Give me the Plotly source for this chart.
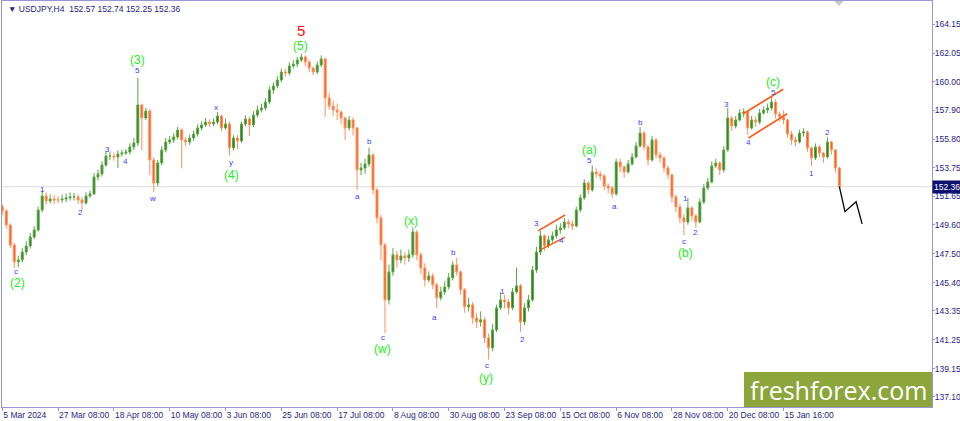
import plotly.graph_objects as go

# ---------------- data ----------------
first_open = 150.90
closes = [
150.60,149.58,148.13,146.90,147.04,147.62,148.06,148.71,149.22,150.67,
151.69,151.33,151.47,151.40,151.40,151.47,151.55,151.62,151.62,151.40,
151.18,151.69,151.84,153.07,153.29,153.94,154.59,154.59,154.52,154.74,
154.81,154.88,155.25,155.54,158.30,157.35,157.86,154.30,152.63,154.09,
155.03,155.61,155.76,155.97,156.48,155.76,155.61,155.90,156.19,156.63,
156.85,157.06,156.92,157.06,157.50,156.63,156.92,155.18,155.90,155.68,
156.92,157.28,156.85,157.57,157.93,158.08,158.51,159.39,159.68,160.11,
160.69,160.62,161.13,161.27,161.56,161.78,161.42,160.98,160.69,161.20,
161.64,158.81,158.22,157.93,157.79,157.35,156.63,157.21,156.63,153.58,
153.72,154.01,154.67,152.13,150.09,148.13,144.14,146.17,147.41,147.04,
147.33,147.19,147.41,149.08,147.41,146.46,145.59,145.88,145.23,144.29,
144.72,145.08,145.74,146.68,146.17,144.87,143.63,143.78,142.83,142.54,
142.69,141.38,140.66,141.96,143.56,144.14,143.99,143.56,144.72,145.16,
142.54,143.56,144.14,146.32,147.62,148.79,148.06,148.50,148.79,149.22,
149.37,149.80,149.66,149.51,150.67,151.55,152.63,152.13,153.43,153.29,
153.14,152.42,152.27,151.84,154.16,153.80,153.43,154.01,154.52,155.32,
156.26,155.25,154.30,155.76,154.67,154.45,153.72,153.22,151.62,150.89,
150.09,149.80,150.82,150.24,149.80,151.25,152.27,152.71,153.87,154.09,
153.58,155.03,157.35,156.77,157.21,157.72,157.79,156.63,157.21,157.06,
157.72,157.93,158.08,158.51,157.64,157.43,157.21,156.19,155.76,155.61,
156.26,156.34,155.18,154.45,155.25,154.81,154.52,155.61,155.03,153.72,
152.36]
highs = [
151.10,150.75,149.70,148.30,147.35,147.90,148.40,149.00,149.50,150.90,
152.10,151.95,151.80,151.75,151.70,151.80,151.85,151.95,151.90,151.80,
151.60,151.95,152.10,153.35,153.60,154.20,154.95,154.90,154.85,155.00,
155.05,155.10,155.50,155.90,160.25,158.40,158.10,158.00,154.50,154.30,
155.30,155.90,156.05,156.25,156.70,156.60,155.95,156.15,156.45,156.90,
157.10,157.35,157.25,157.30,157.80,157.60,157.30,157.10,156.10,156.10,
157.10,157.55,157.45,157.85,158.25,158.40,158.80,159.65,159.95,160.40,
160.95,160.95,161.40,161.55,161.80,162.05,161.90,161.55,161.05,161.45,
161.90,161.75,159.20,158.60,158.40,157.90,157.45,157.50,157.40,156.70,
154.10,154.40,155.20,154.80,152.30,150.30,148.30,146.70,147.90,147.70,
147.80,147.60,147.80,149.40,149.20,147.60,146.80,146.20,146.10,145.40,
145.10,145.50,146.10,146.95,147.20,146.30,145.00,144.30,144.00,143.20,
143.30,142.90,141.70,142.40,143.80,144.70,144.50,144.20,145.00,146.50,
145.30,143.90,144.50,146.60,148.00,149.15,148.90,148.80,149.10,149.60,
149.70,150.10,150.00,149.90,150.90,151.80,152.90,152.75,153.90,153.70,
153.50,153.30,152.60,152.40,154.40,154.40,153.90,154.30,154.80,155.60,
156.70,156.40,155.40,156.05,155.90,154.90,154.60,153.90,153.30,151.80,
151.10,150.40,151.55,150.95,150.40,151.50,152.55,153.00,154.20,154.40,
154.20,155.30,158.07,157.50,157.50,158.00,158.05,157.90,157.50,157.45,
158.00,158.20,158.40,158.95,158.70,157.80,157.90,157.30,156.40,156.00,
156.50,156.60,156.45,155.30,155.50,155.40,154.90,155.95,155.70,155.10,
153.80]
lows = [
150.30,149.30,147.90,146.46,146.50,146.85,147.40,147.85,148.55,149.10,
150.50,151.05,151.15,151.10,151.15,151.20,151.25,151.35,151.35,151.10,
150.65,151.05,151.55,151.75,152.80,153.10,153.80,154.30,154.25,153.72,
154.55,154.65,154.70,155.00,155.30,155.00,157.20,153.20,151.98,152.40,
153.90,154.85,155.45,155.55,155.80,153.70,155.30,155.40,155.70,156.00,
156.45,156.70,156.70,156.75,156.90,156.40,156.50,154.65,155.00,155.10,
155.55,156.75,156.05,156.70,157.40,157.75,157.90,158.35,159.10,159.50,
159.95,160.35,160.45,160.95,161.05,161.40,161.10,160.70,160.45,160.55,
161.05,157.43,157.95,157.50,157.20,156.90,155.75,156.45,156.10,152.13,
153.20,153.30,153.80,151.80,149.70,147.00,141.74,143.80,145.90,146.50,
146.80,146.70,146.90,147.20,147.00,146.00,145.10,145.40,144.90,143.55,
144.10,144.50,144.90,145.55,145.90,144.50,143.20,143.30,142.40,142.10,
142.20,141.00,139.80,140.40,141.80,143.40,143.50,143.10,143.40,144.60,
141.82,142.30,143.30,144.00,146.10,147.40,147.70,147.90,148.30,148.60,
148.95,149.20,149.35,149.20,149.40,150.50,151.40,151.80,152.00,153.00,
152.80,152.10,151.90,151.55,151.70,153.40,153.00,153.30,153.90,154.40,
155.20,155.00,153.90,154.20,154.40,154.10,153.40,152.90,151.20,150.50,
149.70,148.85,149.60,149.90,149.36,149.70,151.10,152.10,152.60,153.70,
153.20,153.40,154.90,156.40,156.60,157.10,157.40,156.12,156.50,156.70,
156.90,157.60,157.70,157.90,157.30,157.10,156.90,155.90,155.40,155.30,
155.50,156.00,154.90,153.86,154.30,154.50,154.10,154.40,154.70,153.40,
152.25]
opens = [first_open] + closes[:-1]
bars = list(range(len(closes)))

date_ticks = [0, 14, 28, 42, 56, 70, 84, 98, 112, 126, 140, 154, 168, 182, 196]
date_labels = ["5 Mar 2024", "27 Mar 08:00", "18 Apr 08:00", "10 May 08:00", "3 Jun 08:00",
               "25 Jun 08:00", "17 Jul 08:00", "8 Aug 08:00", "30 Aug 08:00", "23 Sep 08:00",
               "15 Oct 08:00", "6 Nov 08:00", "28 Nov 08:00", "20 Dec 08:00", "15 Jan 16:00"]
price_ticks = [164.15, 162.05, 160.00, 157.90, 155.80, 153.75, 151.65,
               149.60, 147.50, 145.40, 143.35, 141.25, 139.15, 137.10]
last_price = 152.36

# projected path (black zigzag)
forecast_x = [210, 211.4, 214.2, 215.7]
forecast_y = [152.36, 150.55, 151.27, 149.66]

# channel lines: (x0, y0, x1, y1)
channels = [
    (134.4, 149.15, 141.2, 150.31),
    (135.2, 147.81, 141.2, 148.70),
    (185.8, 157.64, 195.9, 159.44),
    (187.2, 155.90, 196.9, 157.66),
]

# wave labels
green_text = ["(2)", "(3)", "(4)", "(5)", "(w)", "(x)", "(y)", "(a)", "(b)", "(c)"]
green_x = [3.7, 34.0, 57.6, 74.7, 95.5, 102.5, 121.3, 147.4, 171.5, 193.4]
green_y = [145.37, 161.56, 153.21, 162.58, 140.58, 149.88, 138.48, 155.03, 147.55, 159.97]

blue_text = ["c", "1", "2", "3", "4", "5", "w", "x", "y",
             "a", "b", "c", "a", "b", "c", "1", "2", "3", "4",
             "5", "a", "b", "c", "1", "2", "3", "4", "5", "1", "2"]
blue_x = [3.4, 10.0, 19.7, 26.3, 31.0, 34.0, 37.8, 53.6, 57.4,
          89.2, 92.0, 95.5, 108.3, 113.3, 121.6, 125.6, 130.4, 134.1, 140.4,
          147.4, 153.5, 160.0, 171.0, 171.3, 174.0, 181.6, 187.1, 193.4, 202.9, 206.9]
blue_y = [146.17, 152.13, 150.46, 155.10, 154.16, 160.77, 151.54, 158.15, 154.09,
          151.62, 155.61, 141.38, 142.83, 147.55, 139.35, 144.72, 141.24, 149.66, 148.42,
          154.30, 150.96, 157.06, 148.35, 151.54, 149.00, 158.30, 155.54, 159.24, 153.29, 156.27]

red_text = ["5"]
red_x = [74.9]
red_y = [163.74]

# ---------------- figure ----------------
FONT = "Liberation Sans, Arial, sans-serif"
AXIS_COL = "#9595d8"
TXT_COL = "#25257f"

fig = go.Figure()

fig.add_shape(type="line", xref="paper", yref="y", x0=0, x1=1, y0=last_price, y1=last_price,
              line=dict(color="#dcdcdc", width=1), layer="below")

fig.add_trace(go.Candlestick(
    x=bars, open=opens, high=highs, low=lows, close=closes,
    increasing=dict(line=dict(color="#5aa545", width=1), fillcolor="#2f7f1f"),
    decreasing=dict(line=dict(color="#ff8f5c", width=1), fillcolor="#ff5a10"),
    whiskerwidth=0, hoverinfo="skip", showlegend=False,
))

fig.add_trace(go.Scatter(x=forecast_x, y=forecast_y, mode="lines",
                         line=dict(color="#000000", width=1.3), hoverinfo="skip", showlegend=False))

for (x0, y0, x1, y1) in channels:
    fig.add_shape(type="line", xref="x", yref="y", x0=x0, y0=y0, x1=x1, y1=y1,
                  line=dict(color="#ff5a1a", width=1.6))

annotations = []
for t, x, y in zip(green_text, green_x, green_y):
    annotations.append(dict(x=x, y=y, xref="x", yref="y", text=t, showarrow=False,
                            font=dict(family=FONT, size=12, color="#22ee22")))
for t, x, y in zip(blue_text, blue_x, blue_y):
    annotations.append(dict(x=x, y=y, xref="x", yref="y", text=t, showarrow=False,
                            font=dict(family=FONT, size=8, color="#3b3bff")))
for t, x, y in zip(red_text, red_x, red_y):
    annotations.append(dict(x=x, y=y, xref="x", yref="y", text=t, showarrow=False,
                            font=dict(family=FONT, size=15, color="#ff1010")))

# header text
annotations.append(dict(x=0.004, y=1, xref="paper", yref="paper", xanchor="left", yanchor="top",
                        yshift=-1, text="▼ USDJPY,H4  152.57 152.74 152.25 152.36", showarrow=False,
                        font=dict(family=FONT, size=8.5, color=TXT_COL)))
# last price tag
annotations.append(dict(x=1, y=last_price, xref="paper", yref="y", xanchor="left", yanchor="middle",
                        xshift=0, text="152.36", showarrow=False, bgcolor="#0f0f6e",
                        borderpad=1, font=dict(family=FONT, size=8.5, color="#ffffff")))
# small grey marker at the top edge
fig.add_shape(type="path", xref="paper", yref="paper",
              path="M 0.8946 1 L 0.9054 1 L 0.9 0.988 Z",
              fillcolor="#c8c8c8", line=dict(width=0))
# watermark logo
fig.add_shape(type="rect", xref="paper", yref="paper", x0=(744 - 2) / 930, x1=1.0, y0=0, y1=(407 - 372) / 406,
              fillcolor="#8ca63c", line=dict(width=0), layer="above")
annotations.append(dict(x=(838 - 2) / 930, y=(407 - 390) / 406, xref="paper", yref="paper",
                        xanchor="center", yanchor="middle",
                        text="freshforex.com", showarrow=False,
                        font=dict(family="Open Sans, sans-serif", size=25, color="#ffffff")))

fig.update_layout(
    width=960, height=421,
    margin=dict(l=2, r=28, t=1, b=14, autoexpand=False),
    paper_bgcolor="#ffffff", plot_bgcolor="#ffffff",
    annotations=annotations,
    hovermode=False,
    showlegend=False,
)
fig.update_xaxes(
    range=[-0.08, 233.24], rangeslider=dict(visible=False),
    tickmode="array", tickvals=date_ticks, ticktext=date_labels,
    ticklabelposition="outside right", tickangle=0, automargin=False,
    ticks="outside", ticklen=3, tickcolor=AXIS_COL,
    showgrid=False, zeroline=False,
    showline=True, linecolor=AXIS_COL, linewidth=1, mirror=True,
    tickfont=dict(family=FONT, size=8.5, color=TXT_COL),
)
fig.update_yaxes(
    range=[136.36, 165.85], side="right", automargin=False,
    tickmode="array", tickvals=price_ticks, ticktext=[f"{v:.2f}" for v in price_ticks],
    ticks="outside", ticklen=2, tickcolor=AXIS_COL, ticklabelstandoff=-2,
    showgrid=False, zeroline=False,
    showline=True, linecolor=AXIS_COL, linewidth=1, mirror=True,
    tickfont=dict(family=FONT, size=8.5, color=TXT_COL),
)

fig.write_html("out.html", config={"displayModeBar": False},
               post_script="document.body.style.margin='0';document.body.style.overflow='hidden';")
